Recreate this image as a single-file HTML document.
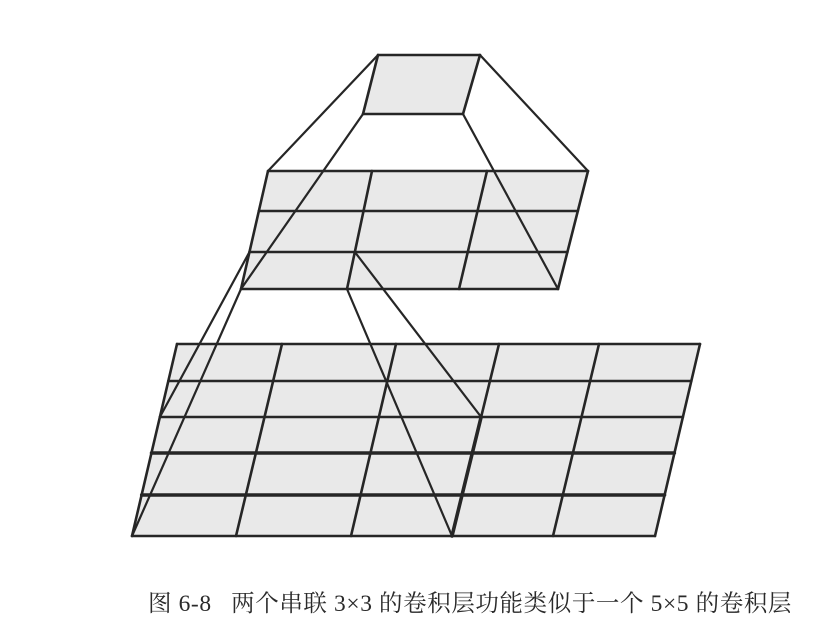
<!DOCTYPE html>
<html><head><meta charset="utf-8"><style>
html,body{margin:0;padding:0;background:#fff;}
#wrap{position:relative;width:820px;height:636px;overflow:hidden;}
#cap{position:absolute;left:148px;top:584px;font-family:"Liberation Serif","Noto Serif CJK SC",serif;font-size:23.5px;color:#2a2a2a;white-space:nowrap;letter-spacing:0.6px;}
</style></head><body>
<div id="wrap">
<svg id="svg" width="820" height="636"></svg>
<div id="cap">图 6-8&nbsp;&nbsp;&nbsp;两个串联 3×3 的卷积层功能类似于一个 5×5 的卷积层</div>
</div>
<script>
const NS="http://www.w3.org/2000/svg";
const svg=document.getElementById('svg');
const topSq={tl:[378,55],tr:[480,55],br:[463,114],bl:[363,114]};
const midRows=[171,211,252,289];
const midTopX=[268,372,487,588];
const midBotX=[241,347,459,558];
const botRows=[344,381,417,453,495,536];
const botTopX=[177,282,396,499,599,700];
const botBotX=[132,236,351,452,553,655];
function ln(x1,y1,x2,y2,w,name){
  const l=document.createElementNS(NS,'line');
  l.setAttribute('x1',x1);l.setAttribute('y1',y1);l.setAttribute('x2',x2);l.setAttribute('y2',y2);
  l.setAttribute('stroke','#262626');l.setAttribute('stroke-width',w);l.setAttribute('stroke-linecap','round');
  
  
  svg.appendChild(l);
}
function poly(pts,name){
  const p=document.createElementNS(NS,'polygon');
  p.setAttribute('points',pts.map(a=>a.join(',')).join(' '));
  p.setAttribute('fill','#e9e9e9');
  
  
  svg.appendChild(p);
}
function xAt(top,bot,rows,y){const t=(y-rows[0])/(rows[rows.length-1]-rows[0]);return top+(bot-top)*t;}
function grid(rows,tx,bx,name,thickRows){
  const n=tx.length-1;
  poly([[tx[0],rows[0]],[tx[n],rows[0]],[bx[n],rows[rows.length-1]],[bx[0],rows[rows.length-1]]],name+'-fill');
  rows.forEach((y,i)=>ln(xAt(tx[0],bx[0],rows,y),y,xAt(tx[n],bx[n],rows,y),y,thickRows.includes(i)?3.4:2.6,name+'-row-line'));
  tx.forEach((x,i)=>ln(x,rows[0],bx[i],rows[rows.length-1],2.6,name+'-col-line'));
}
poly([topSq.tl,topSq.tr,topSq.br,topSq.bl],'output-cell');
[[topSq.tl,topSq.tr],[topSq.tr,topSq.br],[topSq.br,topSq.bl],[topSq.bl,topSq.tl]].forEach(s=>ln(s[0][0],s[0][1],s[1][0],s[1][1],2.6,'output-cell-edge'));
grid(midRows,midTopX,midBotX,'middle-grid',[]);
grid(botRows,botTopX,botBotX,'bottom-grid',[3,4]);
ln(xAt(botTopX[3],botBotX[3],botRows,botRows[2]),botRows[2],botBotX[3],botRows[5],3.6,'receptive-field-edge');
ln(topSq.tl[0],topSq.tl[1],midTopX[0],midRows[0],2.2,'projection-line');
ln(topSq.tr[0],topSq.tr[1],midTopX[3],midRows[0],2.2,'projection-line');
ln(topSq.bl[0],topSq.bl[1],midBotX[0],midRows[3],2.2,'projection-line');
ln(topSq.br[0],topSq.br[1],midBotX[3],midRows[3],2.2,'projection-line');
const mTL=[xAt(midTopX[0],midBotX[0],midRows,midRows[2]),midRows[2]];
const mTR=[xAt(midTopX[1],midBotX[1],midRows,midRows[2]),midRows[2]];
const bTL=[xAt(botTopX[0],botBotX[0],botRows,botRows[2]),botRows[2]];
const bTR=[xAt(botTopX[3],botBotX[3],botRows,botRows[2]),botRows[2]];
ln(mTL[0],mTL[1],bTL[0],bTL[1],2.2,'projection-line');
ln(midBotX[0],midRows[3],botBotX[0],botRows[5],2.2,'projection-line');
ln(mTR[0],mTR[1],bTR[0],bTR[1],2.2,'projection-line');
ln(midBotX[1],midRows[3],botBotX[3],botRows[5],2.2,'projection-line');
</script>
</body></html>
